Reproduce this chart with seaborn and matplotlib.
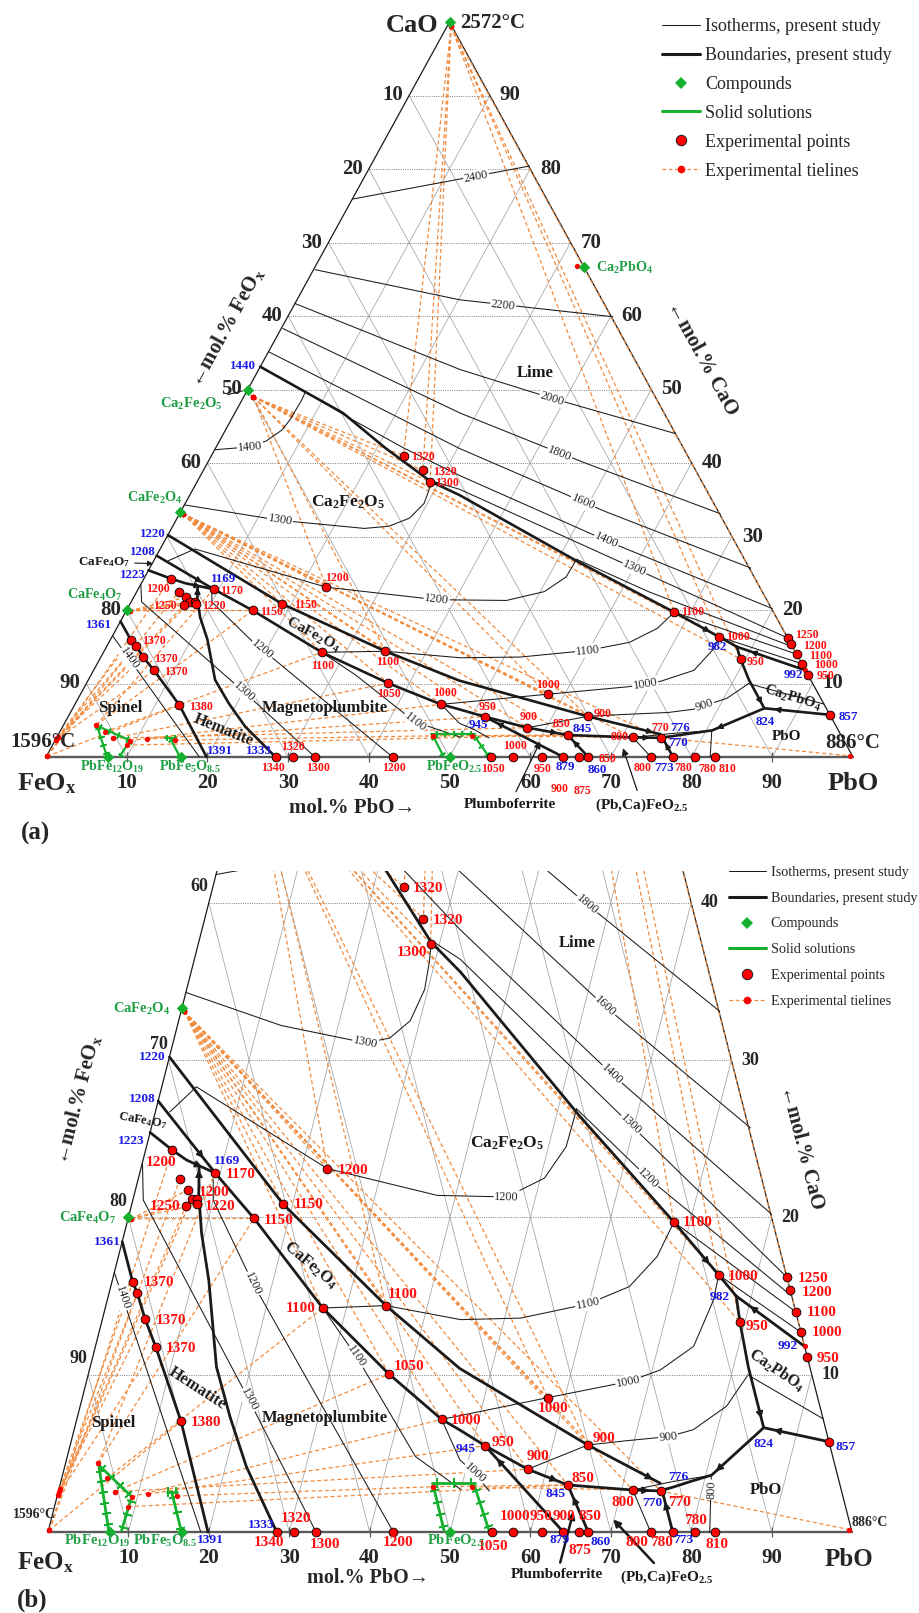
import numpy as np
import matplotlib
matplotlib.use("Agg")
import matplotlib.pyplot as plt
import seaborn as sns
from matplotlib.lines import Line2D
from matplotlib.patches import Rectangle

# all compositions are (mol% PbO, mol% CaO), FeOx is the balance

# experimental liquid compositions (big red points)
exp_pbo = [23.8, 27.2, 28.9, 68.0, 75.25, 79.4,
           83.8, 84.6, 86.0, 87.3, 88.85, 94.26,
           23.2, 57.88,
           3.32, 9.35, 5.2, 6.5, 7.3, 7.9, 6.8, 8.15, 18.85, 15.65,
           2.59, 3.53, 5.28, 7.5, 13.02,
           27.05, 34.85, 37.39, 45.38,
           51.6, 64.37, 57.67, 63.15, 71.39, 74.9,
           28.44, 30.6, 33.33, 42.95, 55.18, 57.88, 61.48, 64.1, 66.04, 67.2,
           74.96, 77.7, 80.47, 82.96]
exp_cao = [41.0, 39.0, 37.4, 19.7, 16.34, 13.33,
           16.2, 15.4, 14.0, 12.7, 11.15, 5.74,
           23.1, 8.54,
           24.28, 22.84, 22.44, 21.74, 21.15, 21.15, 20.72, 20.83, 20.83, 19.94,
           15.89, 15.17, 13.56, 11.78, 7.04,
           14.24, 14.39, 10.04, 7.16,
           5.49, 5.53, 3.99, 2.99, 2.67, 2.61,
           0, 0, 0, 0, 0, 0, 0, 0, 0, 0,
           0, 0, 0, 0]

# compounds: CaO, Ca2PbO4, Ca2Fe2O5, CaFe2O4, CaFe4O7, PbFe12O19, PbFe5O8.5, PbFeO2.5
comp_pbo = [0.0, 33.33, 0.0, 0.0, 0.0, 7.69, 16.67, 50.0]
comp_cao = [100.0, 66.67, 50.0, 33.33, 20.0, 0.0, 0.0, 0.0]

# boundaries (thick lines)
bnd_lime = [(0.0, 53.1), (13.4, 46.8), (21.1, 42.0), (28.9, 37.5), (33.5, 35.6), (53.0, 26.4),
            (68.0, 19.7), (75.25, 16.34), (78.1, 15.0)]
bnd_992 = [(88.2, 11.8), (78.1, 15.0)]
bnd_982 = [(78.1, 15.0), (79.4, 13.33), (81.85, 10.5), (85.7, 6.63)]
bnd_857 = [(94.26, 5.74), (85.7, 6.63)]
bnd_824 = [(85.7, 6.63), (80.74, 3.62), (78.25, 3.2), (76.3, 2.85), (74.9, 2.63)]
bnd_773 = [(77.7, 0.0), (75.3, 2.4)]
bnd_1220 = [(0.0, 30.2), (18.85, 20.83), (34.85, 14.39), (46.0, 10.4), (64.37, 5.53), (74.6, 3.1)]
bnd_1208 = [(0.0, 27.4), (9.35, 22.84), (15.65, 19.94), (27.05, 14.24), (37.39, 10.04),
            (45.38, 7.16), (48.0, 6.48), (51.6, 5.49)]
bnd_1223 = [(0.0, 25.4), (3.32, 24.28), (5.4, 23.65), (9.0, 22.9)]
bnd_1333 = [(28.44, 0.0), (22.6, 4.15), (19.0, 7.3), (15.7, 10.5), (12.0, 16.0), (9.6, 19.0),
            (8.0, 21.5), (7.2, 23.2)]
bnd_1361 = [(0.0, 18.46), (2.59, 15.89), (3.53, 15.17), (5.28, 13.56), (7.5, 11.78),
            (13.02, 7.04), (19.9, 0.0)]
bnd_879 = [(64.1, 0.0), (51.6, 5.49)]
bnd_945 = [(51.6, 5.49), (57.67, 3.99), (63.15, 2.99)]
bnd_860 = [(67.2, 0.0), (63.15, 2.99)]
bnd_845 = [(63.15, 2.99), (71.39, 2.67), (74.9, 2.61)]

# isotherms (thin lines)
iso_2400 = [(0.0, 75.9), (19.7, 80.4)]
iso_2200 = [(0.2, 66.3), (20.2, 62.2), (40.3, 59.9)]
iso_2000 = [(0.0, 61.7), (25.0, 52.7), (38.3, 48.8), (56.0, 44.0)]
iso_1800 = [(0.2, 58.3), (27.9, 46.8), (41.2, 42.0), (47.1, 39.9), (67.0, 33.1)]
iso_1600 = [(0.1, 55.1), (30.2, 42.0), (52.6, 33.4), (74.5, 25.7)]
iso_1400L = [(7.3, 49.7), (15.0, 45.9), (23.4, 42.0), (32.1, 38.3), (55.6, 29.1), (79.9, 20.2)]
iso_1300L = [(28.9, 37.6), (33.1, 36.4), (59.5, 25.9), (83.8, 16.2)]
iso_1200L = [(52.3, 26.9), (63.4, 22.5), (85.0, 15.0)]
iso_1100L = [(68.0, 19.7), (86.0, 14.0)]
iso_1000L = [(75.25, 16.34), (87.3, 12.7)]
iso_1400C = [(0.0, 41.8), (4.2, 42.2), (5.8, 43.0), (7.0, 44.5), (7.3, 45.9), (7.4, 48.6), (7.3, 49.7)]
iso_1300C = [(0.0, 34.3), (12.9, 32.2), (23.9, 31.1), (26.8, 31.4), (28.8, 32.5), (29.6, 34.5),
             (29.3, 36.3), (28.9, 37.5)]
iso_1200C = [(1.8, 26.7), (4.3, 28.3), (23.2, 23.1), (37.7, 21.4), (46.4, 21.3), (50.5, 22.5),
             (52.2, 24.5), (52.3, 26.9)]
iso_1100C = [(27.05, 14.24), (34.85, 14.39), (44.6, 13.5), (52.0, 13.6), (59.9, 14.5),
             (64.5, 15.6), (67.0, 17.5), (68.0, 19.7)]
iso_1000C = [(45.38, 7.16), (57.88, 8.54), (67.4, 9.56), (71.0, 10.3), (74.4, 11.8),
             (75.4, 14.75), (75.25, 16.34)]
iso_900 = [(57.67, 3.99), (64.37, 5.53), (69.0, 5.8), (74.1, 6.06), (77.0, 6.5), (80.4, 8.0),
           (82.0, 9.9)]
iso_900P = [(82.0, 10.0), (92.8, 7.2)]
iso_800 = [(74.96, 0.0), (71.39, 2.67), (76.0, 3.2), (80.7, 3.6), (82.3, 0.0)]
iso_1400S = [(0.0, 16.5), (19.0, 0.0)]
iso_1300H = [(0.0, 23.5), (1.3, 21.1), (20.8, 8.4), (33.33, 0.0)]
iso_1200H = [(9.35, 22.4), (10.0, 21.1), (17.6, 15.8), (42.95, 0.0)]
iso_1100M = [(27.05, 14.24), (32.8, 11.15), (43.3, 4.8), (50.0, 2.7)]
iso_1000M = [(45.38, 7.16), (48.95, 4.58), (51.2, 3.73), (53.6, 2.6)]

# solid solutions (green)
ss_lines = [[(4.07, 4.4), (7.5, 0.1)], [(4.07, 4.3), (9.3, 2.24)], [(9.3, 2.24), (9.1, 0.1)],
            [(14.1, 2.56), (16.6, 0.0)], [(13.5, 2.56), (14.8, 2.56)],
            [(46.2, 3.1), (51.6, 3.1)], [(46.4, 3.0), (49.2, 0.1)], [(51.5, 3.0), (54.8, 0.1)]]

# experimental tielines
tie_cao_src = (0.5, 99.4)
tie_cao_dst = [(23.8, 41.0), (27.2, 39.0), (28.9, 37.4), (68.0, 19.7), (75.25, 16.34),
               (79.4, 13.33), (88.2, 11.8)]
tie_c2f_src = (1.2, 49.0)
tie_c2f_dst = [(23.8, 41.0), (27.2, 39.0), (28.9, 37.4), (23.2, 23.1), (34.85, 14.39),
               (57.88, 8.54), (64.37, 5.53), (68.0, 19.7), (75.25, 16.34), (79.4, 13.33)]
tie_cf_src = (0.4, 33.1)
tie_cf_dst = [(18.85, 20.83), (23.2, 23.1), (27.05, 14.24), (34.85, 14.39), (37.39, 10.04),
              (45.38, 7.16), (51.6, 5.49), (57.88, 8.54), (57.67, 3.99), (64.37, 5.53),
              (63.15, 2.99), (71.39, 2.67), (74.9, 2.61)]
tie_cf4_src = (0.4, 19.9)
tie_cf4_dst = [(15.65, 19.94), (8.15, 20.83), (7.9, 21.15), (6.5, 21.74)]
tie_pairs = [((0.1, 2.75), (2.59, 15.89)), ((0.1, 2.75), (3.53, 15.17)),
             ((0.1, 2.55), (5.28, 13.56)), ((0.1, 2.55), (6.8, 20.72)),
             ((0.1, 2.35), (7.5, 11.78)), ((0.1, 2.35), (7.3, 21.15)),
             ((0.1, 0.1), (13.02, 7.04)), ((0.1, 0.1), (3.32, 24.28)), ((0.1, 0.1), (5.2, 22.44)),
             ((4.07, 4.37), (15.65, 19.94)), ((5.6, 3.41), (27.05, 14.24)),
             ((7.05, 2.56), (37.39, 10.04)), ((9.3, 2.24), (45.38, 7.16)),
             ((11.27, 2.42), (51.6, 5.49)), ((7.05, 2.56), (57.67, 3.99)),
             ((9.18, 1.61), (63.15, 2.99)), ((14.86, 2.29), (46.5, 2.88)),
             ((4.07, 4.37), (9.35, 22.84)), ((46.5, 2.88), (63.15, 2.99)),
             ((51.3, 2.88), (71.39, 2.67)), ((74.9, 2.61), (99.6, 0.15))]
extra_dots = [(32.4, 66.8)]

# isotherm label positions for panel a / panel b
iso_list = [
    (iso_2400, "2400", (13.8, 79.0), None), (iso_2200, "2200", (25.9, 61.5), None),
    (iso_2000, "2000", (38.3, 48.8), None), (iso_1800, "1800", (43.0, 41.3), (47.1, 39.9)),
    (iso_1600, "1600", (49.2, 34.7), (52.6, 33.4)), (iso_1400L, "1400", (54.7, 29.5), (55.6, 29.1)),
    (iso_1300L, "1300", (60.1, 25.7), (59.5, 25.9)), (iso_1200L, "1200", None, (63.4, 22.5)),
    (iso_1100L, "", None, None), (iso_1000L, "", None, None),
    (iso_1400C, "1400", (4.2, 42.2), None), (iso_1300C, "1300", (12.9, 32.2), (23.9, 31.1)),
    (iso_1200C, "1200", (37.7, 21.4), (46.4, 21.3)), (iso_1100C, "1100", (59.9, 14.5), (59.9, 14.5)),
    (iso_1000C, "1000", (69.3, 9.9), (67.4, 9.56)), (iso_900, "900", (78.1, 7.0), (74.1, 6.06)),
    (iso_900P, "", None, None), (iso_800, "800", None, (81.2, 2.7)),
    (iso_1400S, "1400", (3.6, 13.4), (1.85, 14.9)), (iso_1300H, "1300", (20.1, 8.9), (20.8, 8.4)),
    (iso_1200H, "1200", (19.5, 14.6), (17.6, 15.8)), (iso_1100M, "1100", (43.3, 4.8), (32.8, 11.15)),
    (iso_1000M, "1000", None, (51.2, 3.73)),
]

bnd_list = [(bnd_lime, [(6, 0.8)]), (bnd_992, [(0, 0.8)]), (bnd_982, [(2, 0.85)]),
            (bnd_857, [(0, 0.85)]), (bnd_824, [(0, 0.92)]), (bnd_773, [(0, 0.8)]),
            (bnd_1220, [(4, 0.9)]), (bnd_1208, [(0, 0.8)]), (bnd_1223, [(2, 0.6)]),
            (bnd_1333, [(6, 0.9)]), (bnd_1361, []), (bnd_879, [(0, 0.85)]),
            (bnd_945, [(1, 0.75)]), (bnd_860, [(0, 0.75)]), (bnd_845, [(1, 0.6)])]

# temperature labels (reference pixel positions)
red_a = [("1320", 423, 457), ("1320", 445, 472), ("1300", 447, 483), ("1200", 337, 578),
         ("1200", 158, 589), ("1170", 232, 591), ("1250", 165, 606), ("1220", 214, 606),
         ("1150", 306, 605), ("1150", 272, 612), ("1370", 154, 641), ("1370", 166, 659),
         ("1370", 176, 672), ("1380", 201, 707), ("1100", 323, 666), ("1100", 388, 662),
         ("1050", 389, 694), ("1000", 445, 693), ("1340", 273, 768), ("1320", 293, 747),
         ("1300", 318, 768), ("1200", 394, 768), ("1100", 693, 612), ("1000", 738, 637),
         ("950", 756, 662), ("1250", 807, 635), ("1200", 815, 646), ("1100", 821, 656),
         ("1000", 826, 665), ("950", 826, 676), ("1000", 548, 685), ("950", 488, 707),
         ("900", 529, 717), ("900", 603, 714), ("850", 562, 724), ("800", 620, 737),
         ("770", 660, 728), ("1000", 515, 746), ("1050", 493, 769), ("950", 543, 769),
         ("900", 560, 789), ("875", 583, 791), ("850", 608, 759), ("800", 643, 768),
         ("780", 683, 768), ("780", 707, 769), ("810", 728, 769)]
blue_a = [("1440", 243, 366), ("1220", 153, 534), ("1208", 143, 552), ("1223", 133, 575),
          ("1169", 224, 579), ("1361", 99, 625), ("1391", 220, 751), ("1333", 259, 751),
          ("982", 717, 647), ("992", 793, 675), ("945", 478, 725), ("845", 582, 729),
          ("776", 680, 728), ("770", 678, 743), ("824", 765, 722), ("857", 848, 717),
          ("879", 565, 767), ("860", 597, 770), ("773", 664, 768)]
red_b = [("1320", 428, 888), ("1320", 448, 920), ("1300", 412, 953), ("1200", 353, 1171),
         ("1200", 161, 1163), ("1170", 241, 1175), ("1200", 214, 1193), ("1150", 309, 1205),
         ("1250", 165, 1207), ("1220", 220, 1206), ("1150", 279, 1220), ("1370", 159, 1283),
         ("1370", 171, 1320), ("1370", 181, 1348), ("1380", 206, 1423), ("1100", 301, 1309),
         ("1100", 403, 1294), ("1050", 409, 1367), ("1000", 466, 1421), ("1340", 269, 1543),
         ("1320", 296, 1518), ("1300", 325, 1545), ("1200", 398, 1543), ("1100", 698, 1223),
         ("1000", 743, 1277), ("950", 757, 1327), ("1250", 813, 1278), ("1200", 817, 1292),
         ("1100", 822, 1313), ("1000", 827, 1333), ("950", 828, 1358), ("1000", 553, 1408),
         ("950", 503, 1442), ("900", 604, 1438), ("900", 538, 1457), ("850", 583, 1478),
         ("800", 623, 1503), ("770", 680, 1503), ("1000", 515, 1516), ("950", 541, 1516),
         ("900", 564, 1516), ("850", 590, 1516), ("1050", 493, 1547), ("875", 580, 1551),
         ("800", 637, 1542), ("780", 662, 1543), ("780", 696, 1521), ("810", 717, 1545)]
blue_b = [("1220", 152, 1057), ("1208", 142, 1099), ("1223", 131, 1141), ("1169", 227, 1161),
          ("1361", 107, 1242), ("1391", 210, 1540), ("1333", 261, 1525), ("982", 720, 1297),
          ("992", 788, 1346), ("945", 466, 1449), ("845", 556, 1494), ("776", 678, 1477),
          ("770", 652, 1503), ("824", 764, 1444), ("857", 846, 1447), ("879", 560, 1540),
          ("860", 601, 1542), ("773", 683, 1540)]
green_a = [("Ca$_2$PbO$_4$", 625, 268), ("CaFe$_2$O$_4$", 155, 498), ("CaFe$_4$O$_7$", 95, 595),
           ("PbFe$_{12}$O$_{19}$", 112, 767), ("PbFe$_5$O$_{8.5}$", 190, 767),
           ("PbFeO$_{2.5}$", 454, 767)]
green_b = [("CaFe$_2$O$_4$", 142, 1009), ("CaFe$_4$O$_7$", 88, 1218),
           ("PbFe$_{12}$O$_{19}$", 97, 1541), ("PbFe$_5$O$_{8.5}$", 165, 1541),
           ("PbFeO$_{2.5}$", 456, 1541)]
field_a = [("Lime", 535, 373, 0, 12), ("Ca$_2$Fe$_2$O$_5$", 348, 502, 0, 12.5),
           ("CaFe$_2$O$_4$", 313, 635, -28, 11), ("Magnetoplumbite", 325, 708, 0, 12),
           ("Hematite", 223, 730, -22, 11.5), ("Spinel", 120, 708, 0, 12),
           ("Ca$_2$PbO$_4$", 793, 698, -17, 10.5), ("PbO", 787, 737, 0, 11)]
field_b = [("Lime", 577, 943, 0, 12), ("Ca$_2$Fe$_2$O$_5$", 507, 1143, 0, 12.5),
           ("CaFe$_2$O$_4$", 310, 1265, -40, 12), ("Magnetoplumbite", 325, 1418, 0, 12),
           ("Hematite", 197, 1388, -33, 12), ("Spinel", 113, 1423, 0, 12),
           ("Ca$_2$PbO$_4$", 777, 1370, -34, 11.5), ("PbO", 766, 1490, 0, 12),
           ("CaFe$_4$O$_7$", 142, 1120, -10, 9)]
arrow_a = [("Plumboferrite", 510, 804, (60.2, 2.1)), ("(Pb,Ca)FeO$_{2.5}$", 642, 805, (70.9, 1.2))]
arrow_b = [("Plumboferrite", 557, 1575, (64.7, 1.3)), ("(Pb,Ca)FeO$_{2.5}$", 667, 1577, (69.9, 0.8))]

legend_labels = ["Isotherms, present study", "Boundaries, present study", "Compounds",
                 "Solid solutions", "Experimental points", "Experimental tielines"]

# ---------------------------------------------------------------
W, H = 920, 1613
RED, BLUE, GREEN, GTXT, ORANGE = "#ff1010", "#1a1ae6", "#14b02e", "#1f9e45", "#f28a3c"

sns.set_theme(style="white")
plt.rcParams["font.family"] = ["Liberation Serif", "DejaVu Serif"]
plt.rcParams["mathtext.fontset"] = "custom"
plt.rcParams["mathtext.rm"] = "Liberation Serif:bold"
plt.rcParams["mathtext.it"] = "Liberation Serif:bold"
plt.rcParams["mathtext.bf"] = "Liberation Serif:bold"

fig = plt.figure(figsize=(W / 100, H / 100), dpi=100)
fig.patch.set_facecolor("white")

geo = {"a": dict(x0=46.0, sx=8.07, y0=757.0, sy=7.35, top=0, bottom=800),
       "b": dict(x0=48.0, sx=8.04, y0=1532.0, sy=15.73, top=800, bottom=1613)}


def tern(p, c):
    p = np.asarray(p, float)
    c = np.asarray(c, float)
    return p + c / 2.0, c


def tplot(ax, pts, **kw):
    p, c = zip(*pts)
    x, y = tern(p, c)
    return ax.plot(x, y, **kw)


def ptext(x, y, s, **kw):
    kw.setdefault("ha", "center")
    kw.setdefault("va", "center")
    return fig.text(x / W, 1 - y / H, s, **kw)


def disp_angle(ax, A, B):
    da = ax.transData.transform(A)
    db = ax.transData.transform(B)
    a = np.degrees(np.arctan2(db[1] - da[1], db[0] - da[0]))
    if a > 90:
        a -= 180
    if a <= -90:
        a += 180
    return a


def seg_angle(ax, pts, q):
    P = np.array([tern(a, b) for a, b in pts])
    Q = np.array(tern(*q))
    best, ang = 1e9, 0.0
    for A, B in zip(P[:-1], P[1:]):
        AB = B - A
        t = np.clip(np.dot(Q - A, AB) / np.dot(AB, AB), 0, 1)
        d = np.linalg.norm(A + t * AB - Q)
        if d < best:
            best, ang = d, disp_angle(ax, A, B)
    return ang


def make_axes(g):
    ax = fig.add_axes([0, 1 - g["bottom"] / H, 1, (g["bottom"] - g["top"]) / H])
    ax.set_xlim(-g["x0"] / g["sx"], (W - g["x0"]) / g["sx"])
    ax.set_ylim((g["y0"] - g["bottom"]) / g["sy"], (g["y0"] - g["top"]) / g["sy"])
    ax.axis("off")
    return ax


def draw_panel(ax, key):
    big = key == "b"
    # grid
    for v in range(10, 100, 10):
        tplot(ax, [(v, 0), (v, 100 - v)], color="#a8a8a8", lw=0.6, zorder=1)
        tplot(ax, [(100 - v, 0), (0, 100 - v)], color="#a8a8a8", lw=0.6, zorder=1)
        tplot(ax, [(0, v), (100 - v, v)], color="#808080", lw=0.7, ls=(0, (1, 1.3)), zorder=1)
    tplot(ax, [(0, 0), (0, 100)], color="k", lw=0.9, zorder=2)
    tplot(ax, [(100, 0), (0, 100)], color="k", lw=0.9, zorder=2)
    tplot(ax, [(0, 0), (100, 0)], color="#5a5a5a", lw=1.7, zorder=2)
    tk = np.arange(10, 100, 10)
    bx, by = tern(tk, np.zeros(len(tk)))
    ax.plot(bx, by, ls="none", marker="|", ms=7, mew=0.9, color="#5a5a5a", zorder=2)

    # tielines
    ties = [(tie_cao_src, d) for d in tie_cao_dst] + [(tie_c2f_src, d) for d in tie_c2f_dst] \
        + [(tie_cf_src, d) for d in tie_cf_dst] + [(tie_cf4_src, d) for d in tie_cf4_dst] + tie_pairs
    for s, d in ties:
        tplot(ax, [s, d], color=ORANGE, lw=0.9, ls=(0, (3.2, 2.2)), zorder=2)
    ends = np.array([pt for pair in ties for pt in pair] + extra_dots)
    ex, ey = tern(ends[:, 0], ends[:, 1])
    ax.plot(ex, ey, ls="none", marker="o", ms=3.8, color="red", mew=0, zorder=6)

    # isotherms
    for pts, txt, la, lb in iso_list:
        tplot(ax, pts, color="k", lw=0.75, zorder=3)
        lp = lb if big else la
        if lp is not None and txt:
            x, y = tern(*lp)
            ax.text(x, y, txt, fontsize=8.8, rotation=seg_angle(ax, pts, lp),
                    rotation_mode="anchor", ha="center", va="center", zorder=4,
                    bbox=dict(facecolor="white", edgecolor="none", pad=0.6))

    # boundaries with arrows
    for pts, arrows in bnd_list:
        tplot(ax, pts, color="k", lw=2.0 if big else 1.9, zorder=5, solid_capstyle="round")
        for i, f in arrows:
            A = np.array(tern(*pts[i]))
            B = np.array(tern(*pts[i + 1]))
            ax.annotate("", xy=A + f * (B - A), xytext=A + (f - 0.1) * (B - A),
                        arrowprops=dict(arrowstyle="-|>", color="k", lw=1.0,
                                        mutation_scale=11 if big else 9, shrinkA=0, shrinkB=0),
                        zorder=6)

    # solid solutions with ticks
    for pts in ss_lines:
        tplot(ax, pts, color=GREEN, lw=2.0 if big else 1.6, zorder=5)
        A = np.array(tern(*pts[0]))
        B = np.array(tern(*pts[1]))
        da, db = ax.transData.transform(A), ax.transData.transform(B)
        n = max(2, int(np.hypot(*(db - da)) / (11 if big else 8)))
        ang = disp_angle(ax, A, B)
        for t in np.linspace(0.12, 0.9, n):
            q = A + t * (B - A)
            ax.plot([q[0]], [q[1]], marker=(2, 2, ang), ms=6.5 if big else 4.5, mew=1.2,
                    color=GREEN, ls="none", zorder=5)

    # points
    px, py = tern(exp_pbo, exp_cao)
    sns.scatterplot(x=px, y=py, ax=ax, color="red", edgecolor="black", linewidth=0.6,
                    s=40, zorder=7, legend=False)
    cx, cy = tern(comp_pbo, comp_cao)
    ax.scatter(cx, cy, marker="D", s=34, color=GREEN, linewidths=0, zorder=8)

    # axis numbers
    fs_side = 13 if big else 15
    for v in tk:
        x, y = tern(v, 0)
        ax.annotate(str(v), (x, y), xytext=(0, -26), textcoords="offset pixels",
                    ha="center", va="center", fontsize=15, fontweight="bold")
    for c in tk:
        if big and c > 40:
            continue
        x, y = tern(100 - c, c)
        ax.annotate(str(c), (x, y), xytext=(10, 0), textcoords="offset pixels",
                    ha="left", va="center", fontsize=fs_side, fontweight="bold")
        if not big and c == 30:
            continue  # the reference leaves 70 out, the 1220 label sits there
        x, y = tern(0, c)
        off = (-1, 16) if big else (-6, 0)
        ax.annotate(str(100 - c), (x, y), xytext=off, textcoords="offset pixels",
                    ha="right", va="center", fontsize=fs_side, fontweight="bold")

    if big:
        clip = Rectangle((-50, -50), 300, 92.0, transform=ax.transData)
        for art in list(ax.lines) + list(ax.collections):
            art.set_clip_path(clip)
        for t in ax.texts:
            ap = getattr(t, "arrow_patch", None)
            if ap is not None:
                ap.set_clip_path(clip)

    # legend
    handles = [Line2D([], [], color="k", lw=0.75), Line2D([], [], color="k", lw=2.2),
               Line2D([], [], color=GREEN, marker="D", ls="none", ms=6.5, mew=0),
               Line2D([], [], color=GREEN, lw=2.2),
               Line2D([], [], color="red", marker="o", mec="k", ls="none", ms=7.5, mew=0.7),
               Line2D([], [], color=ORANGE, lw=0.9, ls=(0, (3, 2)), marker="o", mfc="red",
                      mec="red", ms=4.5)]
    if big:
        ax.legend(handles, legend_labels, loc="upper left", bbox_to_anchor=(729 / W, 1 - 866 / H),
                  bbox_transform=fig.transFigure, frameon=False, fontsize=10.2, handlelength=2.6,
                  handletextpad=0.33, labelspacing=0.9, borderpad=0, borderaxespad=0)
    else:
        ax.legend(handles, legend_labels, loc="upper left", bbox_to_anchor=(662 / W, 1 - 18 / H),
                  bbox_transform=fig.transFigure, frameon=False, fontsize=13, handlelength=2.1,
                  handletextpad=0.3, labelspacing=0.66, borderpad=0, borderaxespad=0)


ax_a = make_axes(geo["a"])
ax_b = make_axes(geo["b"])
draw_panel(ax_a, "a")
draw_panel(ax_b, "b")

# ---------------- texts ----------------
for s, x, y in red_a:
    ptext(x, y, s, color=RED, fontsize=8.6, fontweight="bold")
for s, x, y in blue_a:
    ptext(x, y, s, color=BLUE, fontsize=9.4, fontweight="bold")
for s, x, y in red_b:
    ptext(x, y, s, color=RED, fontsize=11, fontweight="bold")
for s, x, y in blue_b:
    ptext(x, y, s, color=BLUE, fontsize=9.6, fontweight="bold")
for s, x, y in green_a:
    ptext(x, y, s, color=GTXT, fontsize=10.2, fontweight="bold")
for s, x, y in green_b:
    ptext(x, y, s, color=GTXT, fontsize=10.5, fontweight="bold")
for s, x, y, r, f in field_a + field_b:
    ptext(x, y, s, color="k", fontsize=f, fontweight="bold", rotation=r, rotation_mode="anchor")

ax_a.annotate("Ca$_2$Fe$_2$O$_5$", tern(0, 50), xytext=(191.7, H - 404), textcoords="figure pixels",
              ha="center", va="center", color=GTXT, fontsize=10.5, fontweight="bold",
              arrowprops=dict(arrowstyle="-", color="k", lw=0.8, shrinkA=1, shrinkB=4))
ax_a.annotate("CaFe$_4$O$_7$", tern(0.3, 26.3), xytext=(130, H - 562), textcoords="figure pixels",
              ha="right", va="center", color="k", fontsize=9.5, fontweight="bold",
              arrowprops=dict(arrowstyle="-|>", color="k", lw=0.8, mutation_scale=8,
                              shrinkA=1, shrinkB=1))
for ax, lst, lw in ((ax_a, arrow_a, 0.9), (ax_b, arrow_b, 1.8)):
    for s, x, y, q in lst:
        ax.annotate(s, tern(*q), xytext=(x, H - y), textcoords="figure pixels",
                    ha="center", va="center", color="k", fontsize=11, fontweight="bold",
                    arrowprops=dict(arrowstyle="-|>", color="k", lw=lw, mutation_scale=10,
                                    shrinkA=2, shrinkB=0))

# corners and axis titles
ptext(438, 25, "CaO", ha="right", fontsize=19, fontweight="bold")
ptext(460, 23, "2572°C", ha="left", fontsize=15, fontweight="bold")
ptext(43, 742, "1596°C", fontsize=15, fontweight="bold")
ptext(853, 743, "886°C", fontsize=15, fontweight="bold")
ptext(47, 784, "FeO$_\\mathrm{x}$", fontsize=19, fontweight="bold")
ptext(853, 784, "PbO", fontsize=19, fontweight="bold")
ptext(352, 808, "mol.% PbO→", fontsize=15, fontweight="bold")
ptext(227, 327, "←mol.% FeO$_\\mathrm{x}$", fontsize=15, fontweight="bold", rotation=61.2,
      rotation_mode="anchor")
ptext(702, 358, "←mol.% CaO", fontsize=15, fontweight="bold", rotation=-61.2,
      rotation_mode="anchor")
ptext(35, 833, "(a)", fontsize=18, fontweight="bold")

ptext(34, 1514, "1596°C", fontsize=10, fontweight="bold")
ptext(852, 1522, "886°C", ha="left", fontsize=10, fontweight="bold")
ptext(45, 1563, "FeO$_\\mathrm{x}$", fontsize=18, fontweight="bold")
ptext(849, 1560, "PbO", fontsize=18, fontweight="bold")
ptext(368, 1578, "mol.% PbO→", fontsize=14.5, fontweight="bold")
ptext(78, 1100, "←mol.% FeO$_\\mathrm{x}$", fontsize=15, fontweight="bold", rotation=75.7,
      rotation_mode="anchor")
ptext(802, 1147, "←mol.% CaO", fontsize=15, fontweight="bold", rotation=-75.7,
      rotation_mode="anchor")
ptext(32, 1600, "(b)", fontsize=18, fontweight="bold")

fig.savefig("out.png", dpi=100, facecolor="white")
